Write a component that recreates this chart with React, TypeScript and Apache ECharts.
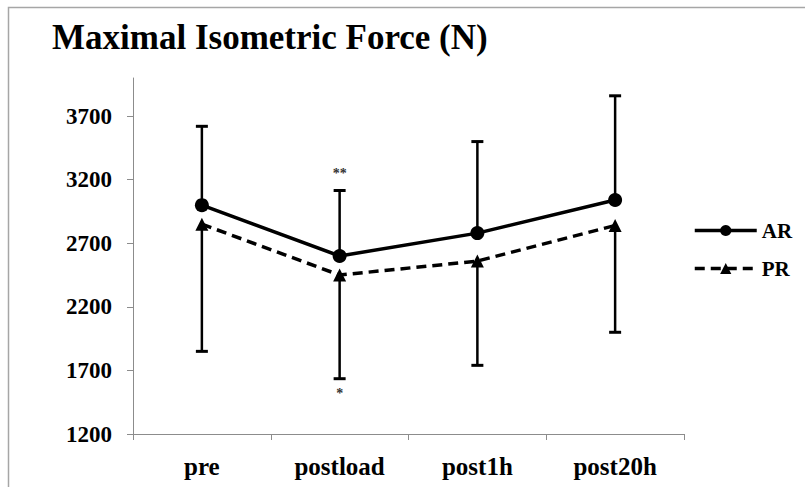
import React, { useEffect, useRef } from "react";
import * as echarts from "echarts";

const categories = ["pre", "postload", "post1h", "post20h"];
const arValues = [3000, 2600, 2780, 3040];
const prValues = [2850, 2450, 2560, 2840];
const arUpper = [3620, 3115, 3500, 3860];
const prLower = [1850, 1635, 1740, 2000];
const yTicks = [1200, 1700, 2200, 2700, 3200, 3700];
const annotations = [
  { cat: "postload", value: 3250, text: "**" },
  { cat: "postload", value: 1520, text: "*" },
];

const FONT = "Liberation Serif";

export default function App() {
  const ref = useRef<HTMLDivElement>(null);
  useEffect(() => {
    if (!ref.current) return;
    const chart = echarts.init(ref.current, null, { renderer: "svg" });
    const errRender = (params: any, api: any) => {
      const x = api.value(0);
      const p1 = api.coord([x, api.value(1)]);
      const p2 = api.coord([x, api.value(2)]);
      return {
        type: "group",
        children: [
          {
            type: "line",
            shape: { x1: p1[0], y1: p1[1], x2: p2[0], y2: p2[1] },
            style: { stroke: "#000", lineWidth: 2.5 },
          },
          {
            type: "line",
            shape: { x1: p2[0] - 6, y1: p2[1], x2: p2[0] + 6, y2: p2[1] },
            style: { stroke: "#000", lineWidth: 3 },
          },
        ],
      };
    };
    chart.setOption({
      animation: false,
      backgroundColor: "#fff",
      title: {
        text: "Maximal Isometric Force (N)",
        left: 52,
        top: 20,
        padding: 0,
        textStyle: { fontFamily: FONT, fontWeight: "bold", fontSize: 35, color: "#000" },
      },
      graphic: [
        {
          type: "polyline",
          shape: { points: [[8.5, 600], [8.5, 7.5], [900, 7.5]] },
          style: { stroke: "#a6a6a6", lineWidth: 1.5, fill: "none" },
          silent: true,
        },
      ],
      legend: {
        orient: "vertical",
        left: 693,
        top: 220,
        padding: 0,
        itemWidth: 62,
        itemHeight: 14,
        itemGap: 17,
        data: ["AR", "PR"],
        lineStyle: { width: 3.5 },
        textStyle: { fontFamily: FONT, fontWeight: "bold", fontSize: 21, color: "#000" },
      },
      grid: { left: 133, right: 121, top: 78, bottom: 53, containLabel: false },
      xAxis: {
        type: "category",
        data: categories,
        boundaryGap: true,
        axisLine: { lineStyle: { color: "#8c8c8c", width: 1 } },
        axisTick: { show: true, length: 6, alignWithLabel: false, lineStyle: { color: "#8c8c8c" } },
        axisLabel: { margin: 20, fontFamily: FONT, fontWeight: "bold", fontSize: 25, color: "#000" },
      },
      yAxis: {
        type: "value",
        min: 1200,
        max: 4000,
        interval: 500,
        splitLine: { show: false },
        axisLine: { show: true, lineStyle: { color: "#8c8c8c", width: 1 } },
        axisTick: { show: true, length: 6, lineStyle: { color: "#8c8c8c" }, customValues: yTicks },
        axisLabel: {
          margin: 21,
          fontFamily: FONT,
          fontWeight: "bold",
          fontSize: 23,
          color: "#000",
          customValues: yTicks,
          formatter: (v: number) => String(v),
        },
      },
      series: [
        {
          type: "custom",
          name: "errAR",
          z: 1,
          renderItem: errRender,
          data: categories.map((_, i) => [i, arValues[i], arUpper[i]]),
        },
        {
          type: "custom",
          name: "errPR",
          z: 1,
          renderItem: errRender,
          data: categories.map((_, i) => [i, prValues[i], prLower[i]]),
        },
        {
          type: "line",
          name: "AR",
          z: 3,
          data: arValues,
          symbol: "circle",
          symbolSize: 14,
          lineStyle: { color: "#000", width: 3.5 },
          itemStyle: { color: "#000" },
        },
        {
          type: "line",
          name: "PR",
          z: 2,
          data: prValues,
          symbol: "triangle",
          symbolSize: 13,
          lineStyle: { color: "#000", width: 3.5, type: [10, 6] },
          itemStyle: { color: "#000" },
        },
        {
          type: "custom",
          name: "annot",
          z: 4,
          renderItem: (params: any, api: any) => {
            const a = annotations[params.dataIndex];
            const p = api.coord([categories.indexOf(a.cat), a.value]);
            return {
              type: "text",
              x: p[0],
              y: p[1],
              style: {
                text: a.text,
                fontFamily: FONT,
                fontWeight: "bold",
                fontSize: 14,
                fill: "#333",
                align: "center",
                verticalAlign: "middle",
              },
            };
          },
          data: annotations.map((a) => [categories.indexOf(a.cat), a.value]),
        },
      ],
    });
    return () => chart.dispose();
  }, []);
  return (
    <div
      ref={ref}
      style={{ position: "absolute", left: 0, top: 0, width: 805, height: 487 }}
    />
  );
}
